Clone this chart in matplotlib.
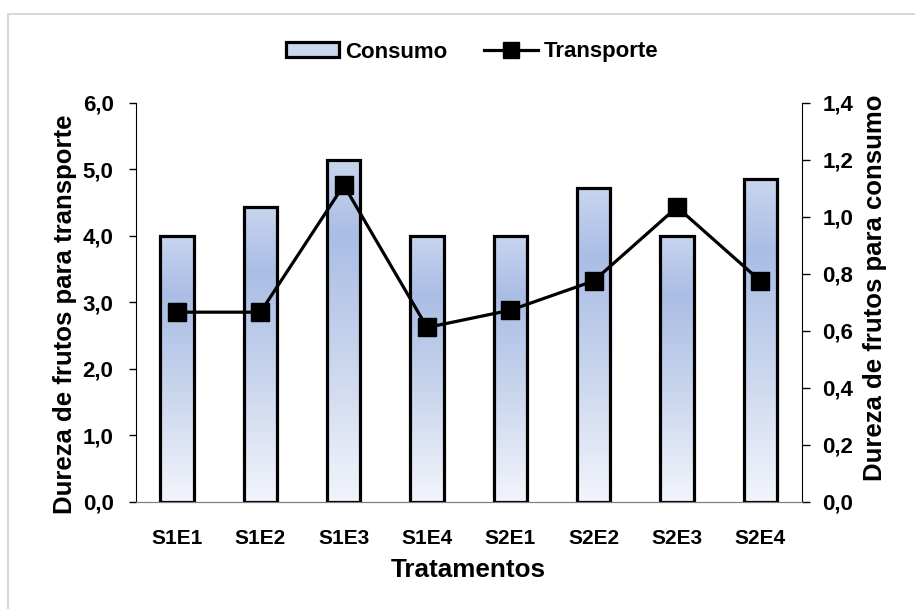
import numpy as np
import matplotlib.pyplot as plt
from matplotlib.colors import LinearSegmentedColormap
from matplotlib.lines import Line2D
from matplotlib.patches import Patch, Rectangle
from matplotlib.ticker import FuncFormatter

plt.rcParams['font.family'] = ['Liberation Sans', 'DejaVu Sans']
plt.rcParams['font.weight'] = 'bold'

tratamentos = ['S1E1', 'S1E2', 'S1E3', 'S1E4', 'S2E1', 'S2E2', 'S2E3', 'S2E4']
consumo = [0.933, 1.033, 1.20, 0.933, 0.933, 1.10, 0.933, 1.133]      # eixo direito
transporte = [2.85, 2.85, 4.76, 2.62, 2.88, 3.32, 4.43, 3.32]        # eixo esquerdo

W, H = 915, 609
fig = plt.figure(figsize=(W / 100, H / 100), dpi=100)

# moldura cinza da área do gráfico
fig.patches.append(Rectangle((8 / W, -0.05), 1.2, 1 - 14 / H + 0.05, transform=fig.transFigure,
                             fill=False, edgecolor='#d9d9d9', linewidth=1.5))

x0, x1, y0, y1 = 135.5, 802, 102.7, 501.7
ax = fig.add_axes([x0 / W, 1 - y1 / H, (x1 - x0) / W, (y1 - y0) / H])
ax2 = ax.twinx()

x = np.arange(len(tratamentos))
ax.set_xlim(-0.5, len(tratamentos) - 0.5)
ax.set_ylim(0, 6)

# barras com gradiente vertical (Consumo)
grad = LinearSegmentedColormap.from_list('grad', [
    (0.0, '#f2f5fc'), (0.2, '#dfe5f4'), (0.45, '#c6d3ec'),
    (0.78, '#aabde4'), (1.0, '#c8d5ef')])
bars = ax2.bar(x, consumo, width=0.4, color='none', edgecolor='black',
               linewidth=2.3, zorder=3)
for b in bars:
    bx, bw, bh = b.get_x(), b.get_width(), b.get_height()
    img = ax2.imshow(np.linspace(0, 1, 256).reshape(-1, 1), cmap=grad, origin='lower',
                     extent=(bx, bx + bw, 0, bh), aspect='auto', zorder=2)
    img.set_clip_path(b)
ax2.set_xlim(-0.5, len(tratamentos) - 0.5)
ax2.set_ylim(0, 1.4)

# linha (Transporte) por cima das barras
ax.set_zorder(ax2.get_zorder() + 1)
ax.patch.set_visible(False)
ax.plot(x, transporte, color='black', linewidth=2.3, marker='s', markersize=12.5,
        zorder=5, clip_on=False)

comma = lambda v, p: f'{v:.1f}'.replace('.', ',')
ax.set_yticks(np.arange(0, 6.1, 1))
ax.yaxis.set_major_formatter(FuncFormatter(comma))
ax2.set_yticks(np.arange(0, 1.41, 0.2))
ax2.yaxis.set_major_formatter(FuncFormatter(comma))

ax.set_xticks(x)
ax.set_xticklabels(tratamentos)
ax.tick_params(axis='x', length=0, pad=20, labelsize=15)
ax.tick_params(axis='y', length=5.3, width=1, pad=10.5, labelsize=16)
ax2.tick_params(axis='y', length=5.5, width=1, pad=9, labelsize=16)

for a in (ax, ax2):
    a.spines['top'].set_visible(False)
    a.spines['bottom'].set_color('#7f7f7f')
    a.spines['left'].set_color('black')
    a.spines['right'].set_color('black')
ax.spines['right'].set_visible(False)
ax2.spines['left'].set_visible(False)

ax.set_xlabel('Tratamentos', fontsize=18.8, fontweight='bold', labelpad=6.5)
ax.set_ylabel('Dureza de frutos para transporte', fontsize=18.5, fontweight='bold', labelpad=4)
ax2.set_ylabel('Dureza de frutos para consumo', fontsize=18.5, fontweight='bold', labelpad=7)
ax.yaxis.label.set_y(0.47)
ax2.yaxis.label.set_y(0.535)

handles = [Patch(facecolor='#c9d6f0', edgecolor='black', linewidth=2.3, label='Consumo'),
           Line2D([], [], color='black', linewidth=2.3, marker='s', markersize=11,
                  label='Transporte')]
fig.legend(handles=handles, loc='center', bbox_to_anchor=(472 / W, 1 - 52 / H), ncol=2,
           frameon=False, fontsize=16, handlelength=2.4, handleheight=0.63,
           handletextpad=0.27, columnspacing=1.67)

fig.savefig('out.png', dpi=100)
